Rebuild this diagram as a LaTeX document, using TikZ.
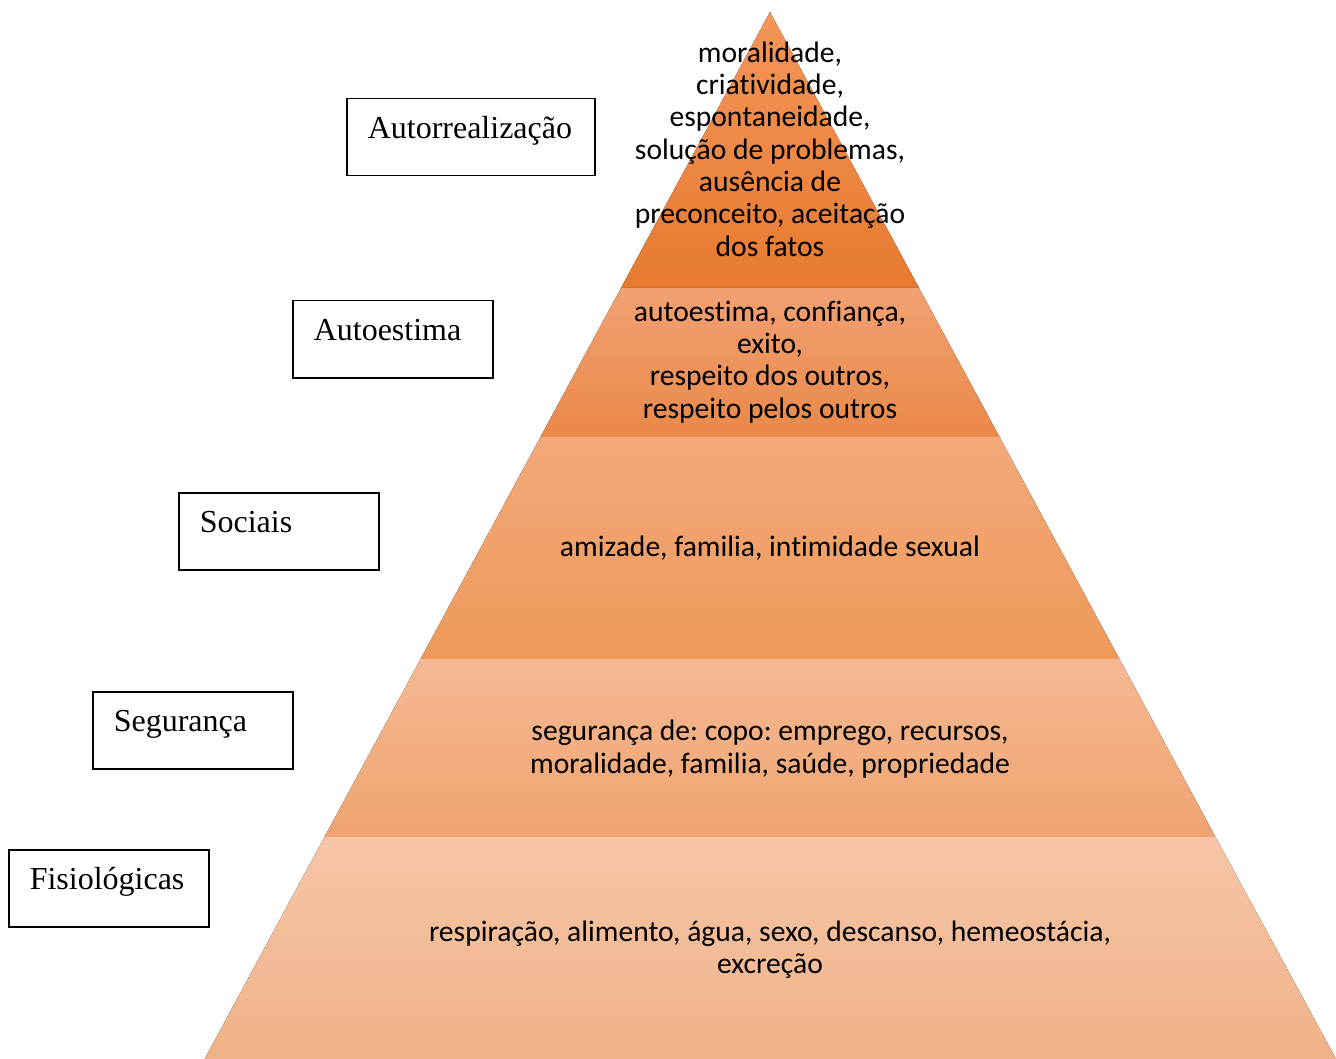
\documentclass[tikz,border=0pt]{standalone}
\usepackage{fontspec}
\setmainfont{Liberation Serif}
\newfontfamily\tierfont[Ligatures=NoCommon]{Carlito}
\frenchspacing
\definecolor{topA}{HTML}{F4965A}
\definecolor{botA}{HTML}{E77A2F}
\definecolor{topB}{HTML}{F2A173}
\definecolor{botB}{HTML}{EA8848}
\definecolor{topC}{HTML}{F3A97B}
\definecolor{botC}{HTML}{EE9959}
\definecolor{topD}{HTML}{F5B893}
\definecolor{botD}{HTML}{EFA470}
\definecolor{topE}{HTML}{F6C6A8}
\definecolor{botE}{HTML}{F0B287}
\begin{document}
\begin{tikzpicture}[x=1pt,y=-1pt,
    lvlbox/.style={draw, line width=1.5pt, anchor=north west, inner xsep=21pt, inner ysep=0pt,
      text width=#1, align=left, text height=40pt, text depth=37pt,
      font=\fontsize{32}{36}\selectfont},
    tiertext/.style={align=center, font=\tierfont\fontsize{29.6}{32.3}\selectfont}]
    \useasboundingbox (0,0) rectangle (1336,1059);
    % pyramid tiers
    \fill[top color=topA, bottom color=botA] (770,12) -- (919,288) -- (621,288) -- cycle;
    \fill[top color=topB, bottom color=botB] (621,288) -- (919,288) -- (999.5,437) -- (540.5,437) -- cycle;
    \fill[top color=topC, bottom color=botC] (540.5,437) -- (999.5,437) -- (1119.4,659) -- (420.6,659) -- cycle;
    \fill[top color=topD, bottom color=botD] (420.6,659) -- (1119.4,659) -- (1215.5,837) -- (324.5,837) -- cycle;
    \fill[top color=topE, bottom color=botE] (324.5,837) -- (1215.5,837) -- (1336,1059) -- (204.6,1059) -- cycle;
    % tier texts
    \node[tiertext] (auto) at (770,149) {moralidade,\\criatividade,\\espontaneidade,\\solução de problemas,\\ausência de\\preconceito, aceitação\\dos fatos};
    \node[tiertext] (estima) at (770,362) {autoestima, confiança,\\exito,\\respeito dos outros,\\respeito pelos outros};
    \node[tiertext] (social) at (770,548) {amizade, familia, intimidade sexual};
    \node[tiertext] (segur) at (770,749) {segurança de: copo: emprego, recursos,\\moralidade, familia, saúde, propriedade};
    \node[tiertext] (fisio) at (770,950) {respiração, alimento, água, sexo, descanso, hemeostácia,\\excreção};
    % level boxes
    \node[lvlbox=206pt] (bauto) at (346,98) {Autorrealização};
    \node[lvlbox=158pt] (bestima) at (292,300) {Autoestima};
    \node[lvlbox=158pt] (bsocial) at (178,492) {Sociais};
    \node[lvlbox=158pt] (bsegur) at (92,691) {Segurança};
    \node[lvlbox=158pt] (bfisio) at (8,849) {Fisiológicas};
\end{tikzpicture}
\end{document}
